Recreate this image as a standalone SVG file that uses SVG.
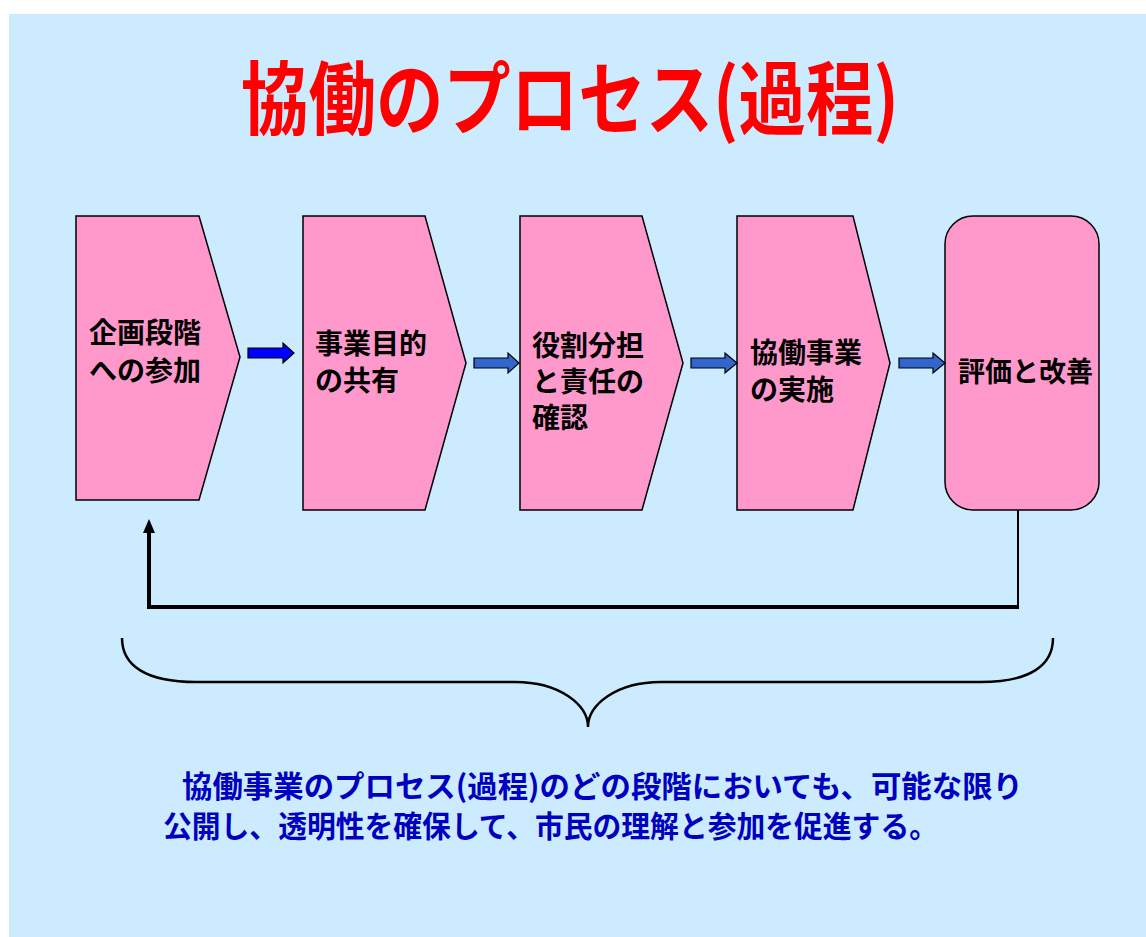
<svg xmlns="http://www.w3.org/2000/svg" width="1146" height="937" viewBox="0 0 1146 937">
<defs>
<style>
.node{fill:#FF99CC;stroke:#000;stroke-width:1.5}
.lbl{font-family:"Noto Sans CJK JP","Noto Sans CJK SC",sans-serif;font-weight:bold;font-size:28px;fill:#000}
.arr{stroke:#000;stroke-width:1.2}
.title{font-family:"Noto Sans CJK JP","Noto Sans CJK SC",sans-serif;font-weight:bold;font-size:80px;fill:#FF0000}
.note{font-family:"Noto Sans CJK JP","Noto Sans CJK SC",sans-serif;font-weight:bold;font-size:30px;fill:#0000C0}
</style>
</defs>
<rect x="0" y="0" width="1146" height="937" fill="#FFFFFF"/>
<rect x="9" y="14" width="1137" height="923" fill="#CCEBFF"/>
<text class="title" x="241" y="128" textLength="658" lengthAdjust="spacingAndGlyphs">協働のプロセス(過程)</text>

<g id="node1">
<polygon class="node" points="76,216 199,216 240,357 199,500 76,500"/>
<text class="lbl" x="89" y="343">企画段階</text>
<text class="lbl" x="89" y="381">への参加</text>
</g>
<g id="node2">
<polygon class="node" points="303,216 425,216 466,363 425,510 303,510"/>
<text class="lbl" x="315" y="354">事業目的</text>
<text class="lbl" x="315" y="391">の共有</text>
</g>
<g id="node3">
<polygon class="node" points="520,216 642,216 683,363 642,510 520,510"/>
<text class="lbl" x="532" y="356">役割分担</text>
<text class="lbl" x="532" y="392">と責任の</text>
<text class="lbl" x="532" y="428">確認</text>
</g>
<g id="node4">
<polygon class="node" points="737,216 853,216 890,363 853,510 737,510"/>
<text class="lbl" x="750" y="363">協働事業</text>
<text class="lbl" x="750" y="400">の実施</text>
</g>
<g id="node5">
<rect class="node" x="945" y="216" width="154" height="294" rx="28" ry="28"/>
<text class="lbl" x="958" y="382" textLength="135" lengthAdjust="spacingAndGlyphs">評価と改善</text>
</g>

<g id="connectors">
<polygon class="arr" fill="#0000FF" points="248,348 283,348 283,343 294,353 283,363 283,358 248,358"/>
<polygon class="arr" fill="#3366CC" points="474,358 508,358 508,353 519,363 508,373 508,368 474,368"/>
<polygon class="arr" fill="#3366CC" points="691,358 725,358 725,353 737,363 725,373 725,368 691,368"/>
<polygon class="arr" fill="#3366CC" points="899,358 933,358 933,353 945,363 933,373 933,368 899,368"/>
<line x1="1018" y1="510" x2="1018" y2="608" stroke="#000" stroke-width="2"/>
<line x1="1019" y1="607" x2="147" y2="607" stroke="#000" stroke-width="4"/>
<line x1="149" y1="609" x2="149" y2="530" stroke="#000" stroke-width="4"/>
<polygon points="149,519 155,533 143,533" fill="#000"/>
<path d="M122 638 C122 665 145 682 196 682 H515 C560 682 588 705 588 727 C588 705 616 682 661 682 H980 C1031 682 1053 665 1053 638" fill="none" stroke="#000" stroke-width="2.5"/>
</g>

<text class="note" x="182" y="797" textLength="841" lengthAdjust="spacingAndGlyphs">協働事業のプロセス(過程)のどの段階においても、可能な限り</text>
<text class="note" x="163" y="837" textLength="775" lengthAdjust="spacingAndGlyphs">公開し、透明性を確保して、市民の理解と参加を促進する。</text>
</svg>
